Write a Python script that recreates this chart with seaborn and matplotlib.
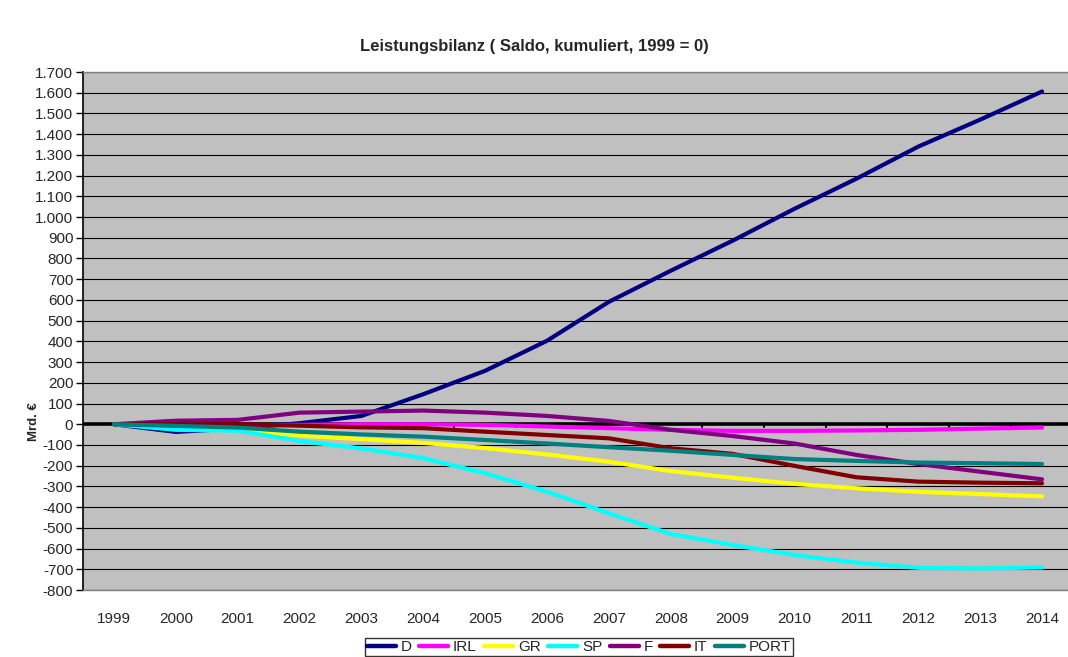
import pandas as pd
import seaborn as sns
import matplotlib.pyplot as plt
from matplotlib.ticker import FuncFormatter

sns.set_style('white')
plt.rcParams['font.family'] = ['Liberation Sans', 'DejaVu Sans']

jahre = [str(j) for j in range(1999, 2015)]
laender = ['D', 'IRL', 'GR', 'SP', 'F', 'IT', 'PORT']

d_werte = [0, -37, -20, 5, 40, 145, 258, 403, 591, 741, 886, 1040, 1185, 1340, 1470, 1606]
irl_werte = [0, -3, -5, -3, 0, 0, -3, -11, -19, -27, -32, -32, -30, -27, -21, -16]
gr_werte = [0, -10, -25, -55, -72, -90, -115, -146, -181, -226, -258, -288, -309, -326, -337, -348]
sp_werte = [0, -27, -31, -81, -117, -164, -237, -326, -430, -530, -583, -631, -668, -693, -696, -691]
f_werte = [0, 17, 21, 56, 61, 66, 56, 40, 16, -27, -57, -93, -148, -192, -229, -266]
it_werte = [0, 0, 0, -7, -15, -19, -36, -52, -68, -116, -143, -201, -256, -277, -282, -285]
port_werte = [0, -8, -16, -36, -49, -60, -76, -93, -111, -128, -148, -168, -177, -185, -188, -192]

farben = ['#000080', '#FF00FF', '#FFFF00', '#00FFFF', '#800080', '#800000', '#008080']

werte = [d_werte, irl_werte, gr_werte, sp_werte, f_werte, it_werte, port_werte]
df = pd.DataFrame({
    'Jahr': jahre * len(laender),
    'Saldo': [v for reihe in werte for v in reihe],
    'Land': [l for l in laender for _ in jahre],
})
df['x'] = df['Jahr'].map({j: i for i, j in enumerate(jahre)})

fig = plt.figure(figsize=(10.68, 6.57), dpi=100)
ax = fig.add_axes([83 / 1068, 67 / 657, 990 / 1068, 518 / 657])
ax.set_facecolor('#C0C0C0')

for y in range(-800, 1800, 100):
    if y != 0:
        ax.axhline(y, color='black', lw=0.8, zorder=1)

sns.lineplot(data=df, x='x', y='Saldo', hue='Land', palette=farben,
             hue_order=laender, lw=3, ax=ax, legend=False, zorder=3)

ax.axhline(0, color='black', lw=2.6, zorder=2)
for i in range(1, len(jahre)):
    ax.plot([i - 0.5, i - 0.5], [-14, 0], color='black', lw=1.5, zorder=2)

ax.set_xlim(-0.5, len(jahre) - 0.5)
ax.set_ylim(-800, 1700)
ax.set_yticks(range(-800, 1800, 100))
ax.yaxis.set_major_formatter(FuncFormatter(lambda v, p: f'{int(v):,}'.replace(',', '.')))
ax.set_xticks(range(len(jahre)))
ax.set_xticklabels(jahre)
ax.tick_params(axis='y', left=True, length=5, width=1, color='black', labelsize=11, pad=2)
ax.tick_params(axis='x', bottom=False, labelsize=11, pad=12)

ax.spines['left'].set_color('black')
ax.spines['left'].set_linewidth(1.2)
for s in ['top', 'bottom', 'right']:
    ax.spines[s].set_color('#808080')
    ax.spines[s].set_linewidth(1)

ax.set_xlabel('')
ax.set_ylabel('Mrd. €', fontsize=9.5, fontweight='bold')
ax.yaxis.set_label_coords(-43 / 990, 168 / 518)
fig.text(0.5, 1 - 47 / 657, 'Leistungsbilanz ( Saldo, kumuliert, 1999 = 0)',
         ha='center', va='center', fontsize=12, fontweight='bold')

griffe = [plt.Line2D([], [], color=c, lw=3.2) for c in farben]
fig.legend(griffe, laender, loc='center', bbox_to_anchor=(579 / 1068, 1 - 647 / 657),
           ncol=7, frameon=True, fancybox=False, edgecolor='black', fontsize=11,
           handlelength=1.9, handletextpad=0.3, columnspacing=0.5,
           borderpad=0.15, borderaxespad=0)

fig.savefig('out.png', dpi=100, facecolor='white')
